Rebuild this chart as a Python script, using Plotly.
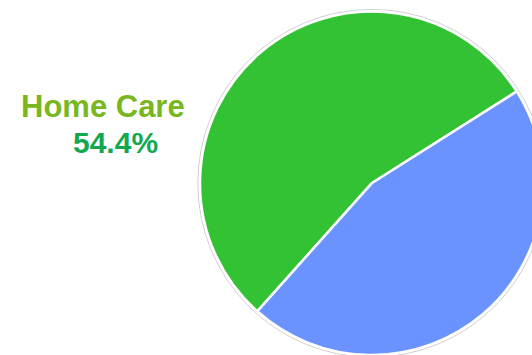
import plotly.graph_objects as go

# Share of the two segments
labels = ["Home Care", "Other"]
values = [54.4, 45.6]
colors = ["#33c233", "#6a93ff"]

W, H = 544, 355
cx, cy, r = 371.7, 171.7, 171.7  # pie centre / radius in px (y from bottom)

fig = go.Figure(
    go.Pie(
        labels=labels,
        values=values,
        sort=False,
        direction="clockwise",
        rotation=221.8,
        textinfo="none",
        hoverinfo="label+percent",
        marker=dict(colors=colors, line=dict(color="white", width=2.5)),
        domain=dict(x=[(cx - r) / W, (cx + r) / W], y=[(cy - r) / H, (cy + r) / H]),
        showlegend=False,
    )
)

# faint grey rim just outside the white outline
rr = r + 2.2
fig.add_shape(
    type="circle", xref="paper", yref="paper",
    x0=(cx - rr) / W, x1=(cx + rr) / W, y0=(cy - rr) / H, y1=(cy + rr) / H,
    line=dict(color="rgba(150,150,150,0.45)", width=1), layer="below",
)

font = "Liberation Sans, Arial, sans-serif"
fig.add_annotation(
    x=102.5 / W, y=1 - 106 / H, xref="paper", yref="paper",
    text="<b>%s</b>" % labels[0], showarrow=False,
    xanchor="center", yanchor="middle",
    font=dict(family=font, size=31, color="#79b71e"),
)
fig.add_annotation(
    x=115.5 / W, y=1 - 142 / H, xref="paper", yref="paper",
    text="<b>%.1f%%</b>" % values[0], showarrow=False,
    xanchor="center", yanchor="middle",
    font=dict(family=font, size=30, color="#12a84f"),
)

fig.update_layout(
    width=W, height=H,
    margin=dict(l=0, r=0, t=0, b=0),
    paper_bgcolor="white", plot_bgcolor="white",
)

fig.write_html(
    "out.html",
    post_script="document.body.style.margin='0';document.body.style.overflow='hidden';",
)
